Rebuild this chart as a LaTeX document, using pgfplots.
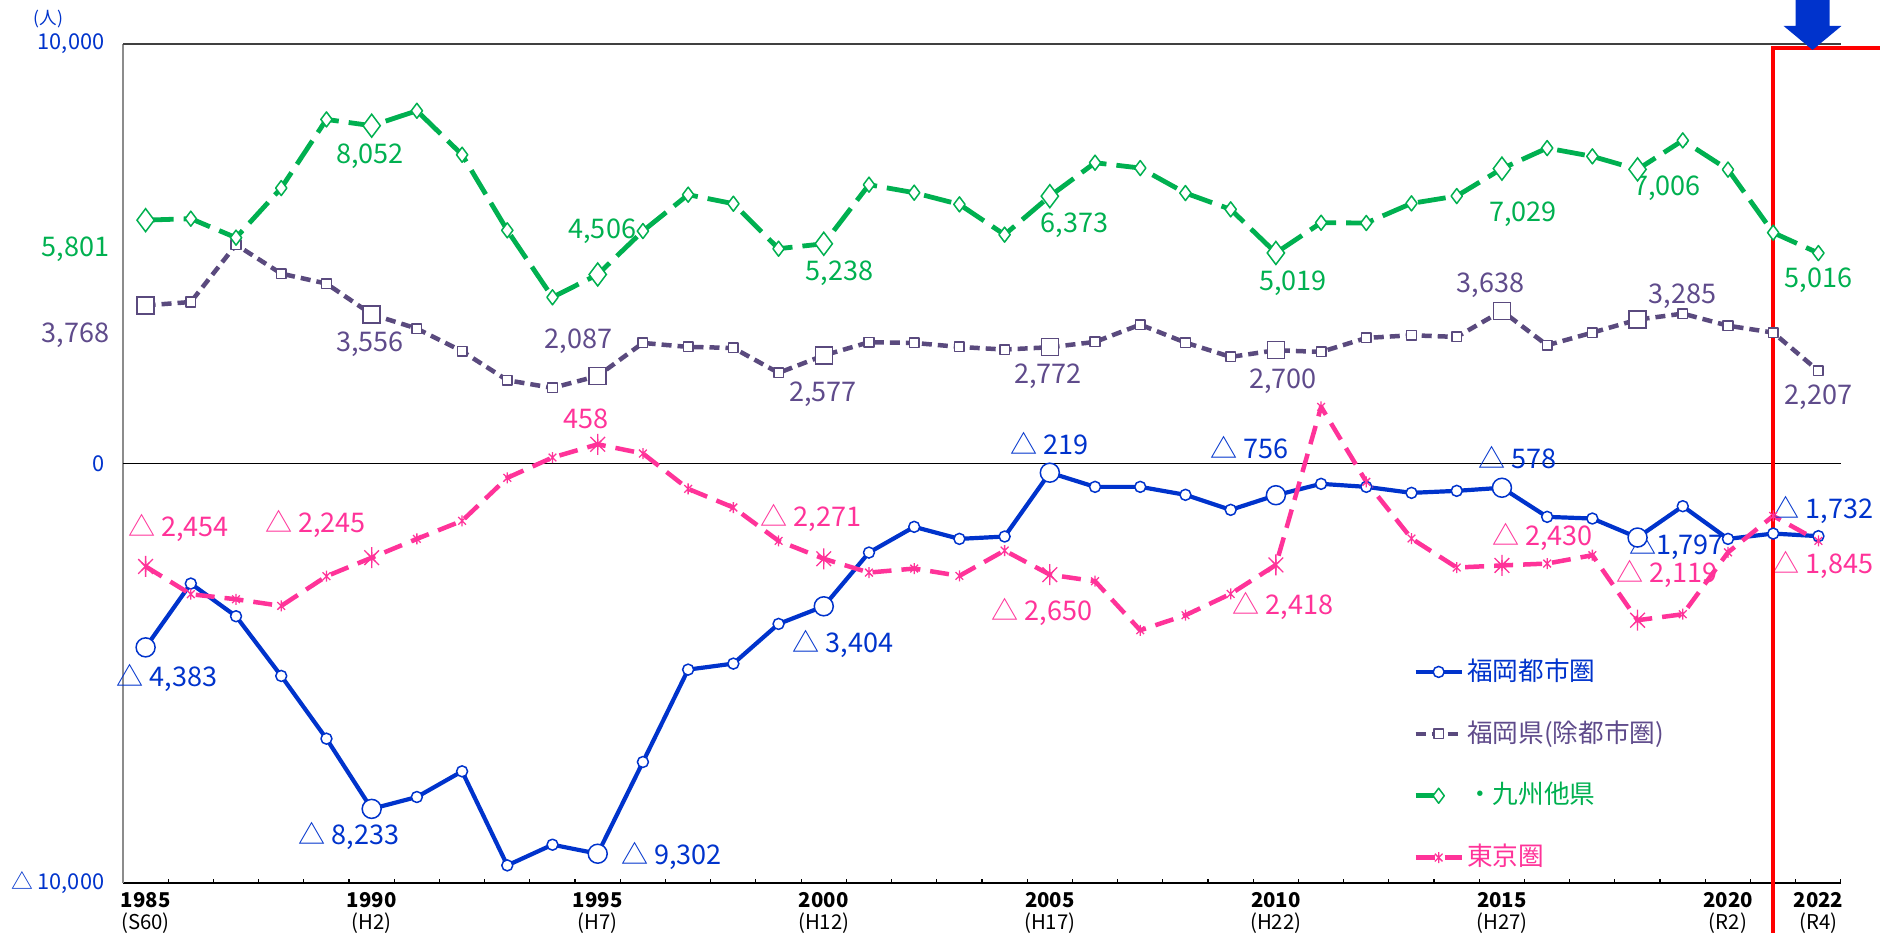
\documentclass[border=0pt]{standalone}
\usepackage{fontspec}
\setmainfont{Noto Sans CJK JP}
\usepackage{pgfplots}
\pgfplotsset{compat=1.18}
\usepackage{pgfplotstable}

\definecolor{cBlue}{HTML}{0033CC}
\definecolor{cPurp}{HTML}{5A4A7E}
\definecolor{cPurpT}{HTML}{5F4B8B}
\definecolor{cGreen}{HTML}{00B050}
\definecolor{cPink}{HTML}{FF3399}

\pgfdeclareplotmark{xstar}{%
 \pgfpathmoveto{\pgfqpoint{0pt}{\pgfplotmarksize}}%
 \pgfpathlineto{\pgfqpoint{0pt}{-\pgfplotmarksize}}%
 \pgfpathmoveto{\pgfqpoint{-.7\pgfplotmarksize}{.7\pgfplotmarksize}}%
 \pgfpathlineto{\pgfqpoint{.7\pgfplotmarksize}{-.7\pgfplotmarksize}}%
 \pgfpathmoveto{\pgfqpoint{-.7\pgfplotmarksize}{-.7\pgfplotmarksize}}%
 \pgfpathlineto{\pgfqpoint{.7\pgfplotmarksize}{.7\pgfplotmarksize}}%
 \pgfusepathqstroke}

\pgfplotstableread{
year fk fp ky tk
1985 -4383 3768 5801 -2454
1986 -2862 3850 5836 -3116
1987 -3641 5216 5383 -3236
1988 -5064 4526 6566 -3395
1989 -6559 4288 8202 -2687
1990 -8233 3556 8052 -2245
1991 -7950 3216 8408 -1797
1992 -7338 2676 7360 -1367
1993 -9580 1985 5558 -342
1994 -9087 1802 3962 143
1995 -9302 2087 4506 458
1996 -7115 2874 5542 238
1997 -4913 2779 6408 -604
1998 -4770 2755 6193 -1049
1999 -3824 2160 5121 -1844
2000 -3404 2577 5238 -2271
2001 -2123 2890 6646 -2600
2002 -1510 2874 6455 -2504
2003 -1797 2779 6177 -2679
2004 -1741 2716 5455 -2075
2005 -219 2772 6373 -2650
2006 -557 2898 7170 -2806
2007 -557 3311 7043 -3975
2008 -747 2882 6447 -3617
2009 -1105 2541 6058 -3108
2010 -756 2700 5019 -2418
2011 -485 2660 5740 1350
2012 -557 2993 5733 -437
2013 -700 3057 6201 -1789
2014 -652 3017 6376 -2480
2015 -578 3638 7029 -2430
2016 -1272 2819 7519 -2385
2017 -1312 3120 7321 -2186
2018 -1765 3430 7011 -3736
2019 -1018 3573 7702 -3593
2020 -1797 3285 7006 -2119
2021 -1670 3120 5502 -1250
2022 -1732 2207 5016 -1845
}\tabAll

\pgfplotstableread{
year fk fp ky tk
1985 -4383 3768 5801 -2454
1990 -8233 3556 8052 -2245
1995 -9302 2087 4506 458
2000 -3404 2577 5238 -2271
2005 -219 2772 6373 -2650
2010 -756 2700 5019 -2418
2015 -578 3638 7029 -2430
2018 -1765 3430 7011 -3736
}\tabBig

\newcommand\lbl{\fontsize{7.7}{9}\selectfont}

\begin{document}
\begin{tikzpicture}
\useasboundingbox (0,0) rectangle (188mm,93.2mm);
\begin{axis}[
  at={(12.3mm,4.9mm)}, anchor=south west,
  scale only axis, width=171.8mm, height=83.9mm,
  xmin=1984.5, xmax=2022.5, ymin=-10000, ymax=10000,
  clip=false,
  scaled y ticks=false, scaled x ticks=false,
  axis x line*=bottom, axis y line*=left,
  x axis line style={-, black, line width=0.15mm},
  y axis line style={-, black!45, line width=0.15mm},
  xtick={1985,1990,1995,2000,2005,2010,2015,2020,2022},
  xticklabels={{\textbf{1985}\\(S60)},{\textbf{1990}\\(H2)},{\textbf{1995}\\(H7)},{\textbf{2000}\\(H12)},{\textbf{2005}\\(H17)},{\textbf{2010}\\(H22)},{\textbf{2015}\\(H27)},{\textbf{2020}\\(R2)},{\textbf{2022}\\(R4)}},
  xticklabel style={align=center, font=\fontsize{5.8}{6.3}\selectfont, inner sep=0pt, anchor=north, yshift=-0.9mm},
  minor xtick={1985.5,1986.5,...,2022.5},
  major tick length=0pt,
  minor tick length=0.45mm,
  tick align=inside,
  tick style={black, line width=0.12mm},
  ytick={-10000,0,10000},
  yticklabels={{△ 10,000},{0},{10,000}},
  yticklabel style={anchor=east, inner sep=0pt, xshift=-1.8mm, font=\fontsize{6.2}{7}\selectfont, text=cBlue},
  legend style={draw=none, fill=none, at={(axis cs:2012.79,-7180)}, anchor=west, row sep=2.9mm, font=\fontsize{7.3}{8.5}\selectfont, nodes={inner sep=0.3mm}},
  legend cell align=left,
  legend image code/.code={\draw[mark repeat=2, mark phase=2] plot coordinates {(0mm,0mm) (2.3mm,0mm) (4.6mm,0mm)};},
]
\draw[black!75, line width=0.15mm] (axis cs:1984.5,10000) -- (axis cs:2022.5,10000);
\draw[black, line width=0.15mm] (axis cs:1984.5,0) -- (axis cs:2022.5,0);

% lines
\addplot[cBlue, line width=0.42mm, line join=round, mark=*, mark size=0.55mm, mark options={fill=white, solid, line width=0.15mm}] table[x=year,y=fk]{\tabAll};
\addplot[cPurp, line width=0.45mm, dash pattern=on 1mm off 0.6mm, line join=round, mark=square*, mark size=0.48mm, mark options={fill=white, solid, line width=0.15mm}] table[x=year,y=fp]{\tabAll};
\addplot[cGreen, line width=0.48mm, dash pattern=on 2.8mm off 1mm, line join=round, mark=diamond*, mark size=0.75mm, mark options={fill=white, solid, line width=0.15mm}, legend image post style={dash pattern=on 2.4mm off 3mm}] table[x=year,y=ky]{\tabAll};
\addplot[cPink, line width=0.45mm, dash pattern=on 1.9mm off 1mm, line join=round, mark=xstar, mark size=0.55mm, mark options={solid, line width=0.13mm}] table[x=year,y=tk]{\tabAll};

% big markers
\addplot[cBlue, only marks, mark=*, mark size=0.95mm, mark options={fill=white, line width=0.15mm}, forget plot] table[x=year,y=fk]{\tabBig};
\addplot[cPurp, only marks, mark=square*, mark size=0.85mm, mark options={fill=white, line width=0.15mm}, forget plot] table[x=year,y=fp]{\tabBig};
\addplot[cGreen, only marks, mark=diamond*, mark size=1.15mm, mark options={fill=white, line width=0.15mm}, forget plot] table[x=year,y=ky]{\tabBig};
\addplot[cPink, only marks, mark=xstar, mark size=1.05mm, mark options={line width=0.13mm}, forget plot] table[x=year,y=tk]{\tabBig};

\legend{\textcolor{cBlue}{福岡都市圏},\textcolor{cPurpT}{福岡県(除都市圏)},\textcolor{cGreen}{・九州他県},\textcolor{cPink}{東京圏}}

\begin{scope}[every node/.style={font=\lbl, inner sep=0pt}]
% green labels
\node[text=cGreen] at (axis cs:1983.45,5100) {5,801};
\node[text=cGreen] at (axis cs:1989.96,7333) {8,052};
\node[text=cGreen] at (axis cs:1995.10,5530) {4,506};
\node[text=cGreen] at (axis cs:2000.35,4530) {5,238};
\node[text=cGreen] at (axis cs:2005.55,5673) {6,373};
\node[text=cGreen] at (axis cs:2010.38,4305) {5,019};
\node[text=cGreen] at (axis cs:2015.47,5935) {7,029};
\node[text=cGreen] at (axis cs:2018.65,6563) {7,006};
\node[text=cGreen] at (axis cs:2022.0,4362) {5,016};
% purple labels
\node[text=cPurpT] at (axis cs:1983.45,3048) {3,768};
\node[text=cPurpT] at (axis cs:1989.96,2848) {3,556};
\node[text=cPurpT] at (axis cs:1994.57,2905) {2,087};
\node[text=cPurpT] at (axis cs:1999.98,1647) {2,577};
\node[text=cPurpT] at (axis cs:2004.96,2076) {2,772};
\node[text=cPurpT] at (axis cs:2010.16,1962) {2,700};
\node[text=cPurpT] at (axis cs:2014.75,4249) {3,638};
\node[text=cPurpT] at (axis cs:2018.99,3991) {3,285};
\node[text=cPurpT] at (axis cs:2022.0,1590) {2,207};
% blue labels
\node[text=cBlue] at (axis cs:1985.47,-5100) {△ 4,383};
\node[text=cBlue] at (axis cs:1989.5,-8874) {△ 8,233};
\node[text=cBlue] at (axis cs:1996.63,-9360) {△ 9,302};
\node[text=cBlue] at (axis cs:2000.43,-4300) {△ 3,404};
\node[text=cBlue] at (axis cs:2004.99,475) {△ 219};
\node[text=cBlue] at (axis cs:2009.42,389) {△ 756};
\node[text=cBlue] at (axis cs:2015.34,132) {△ 578};
\node[text=cBlue] at (axis cs:2018.86,-1960) {△1,797};
\node[text=cBlue] at (axis cs:2022.1,-1098) {△ 1,732};
% pink labels
\node[text=cPink] at (axis cs:1985.73,-1527) {△ 2,454};
\node[text=cPink] at (axis cs:1988.76,-1441) {△ 2,245};
\node[text=cPink] at (axis cs:1994.75,1075) {458};
\node[text=cPink] at (axis cs:1999.72,-1298) {△ 2,271};
\node[text=cPink] at (axis cs:2004.83,-3528) {△ 2,650};
\node[text=cPink] at (axis cs:2010.16,-3385) {△ 2,418};
\node[text=cPink] at (axis cs:2015.9,-1755) {△ 2,430};
\node[text=cPink] at (axis cs:2018.65,-2620) {△ 2,119};
\node[text=cPink] at (axis cs:2022.1,-2419) {△ 1,845};
\end{scope}
\node[text=cBlue, font=\fontsize{5}{6}\selectfont, inner sep=0pt] at (axis cs:1982.85,10600) {(人)};

% red frame
\draw[red, line width=0.45mm] (axis cs:2021,-13000) -- (axis cs:2021,9900) -- (axis cs:2025,9900);
% arrow
\fill[cBlue] (axis cs:2021.494,11300) -- (axis cs:2021.494,10430) -- (axis cs:2021.23,10430) -- (axis cs:2021.87,9858) -- (axis cs:2022.51,10430) -- (axis cs:2022.246,10430) -- (axis cs:2022.246,11300) -- cycle;
\end{axis}
\end{tikzpicture}
\end{document}
